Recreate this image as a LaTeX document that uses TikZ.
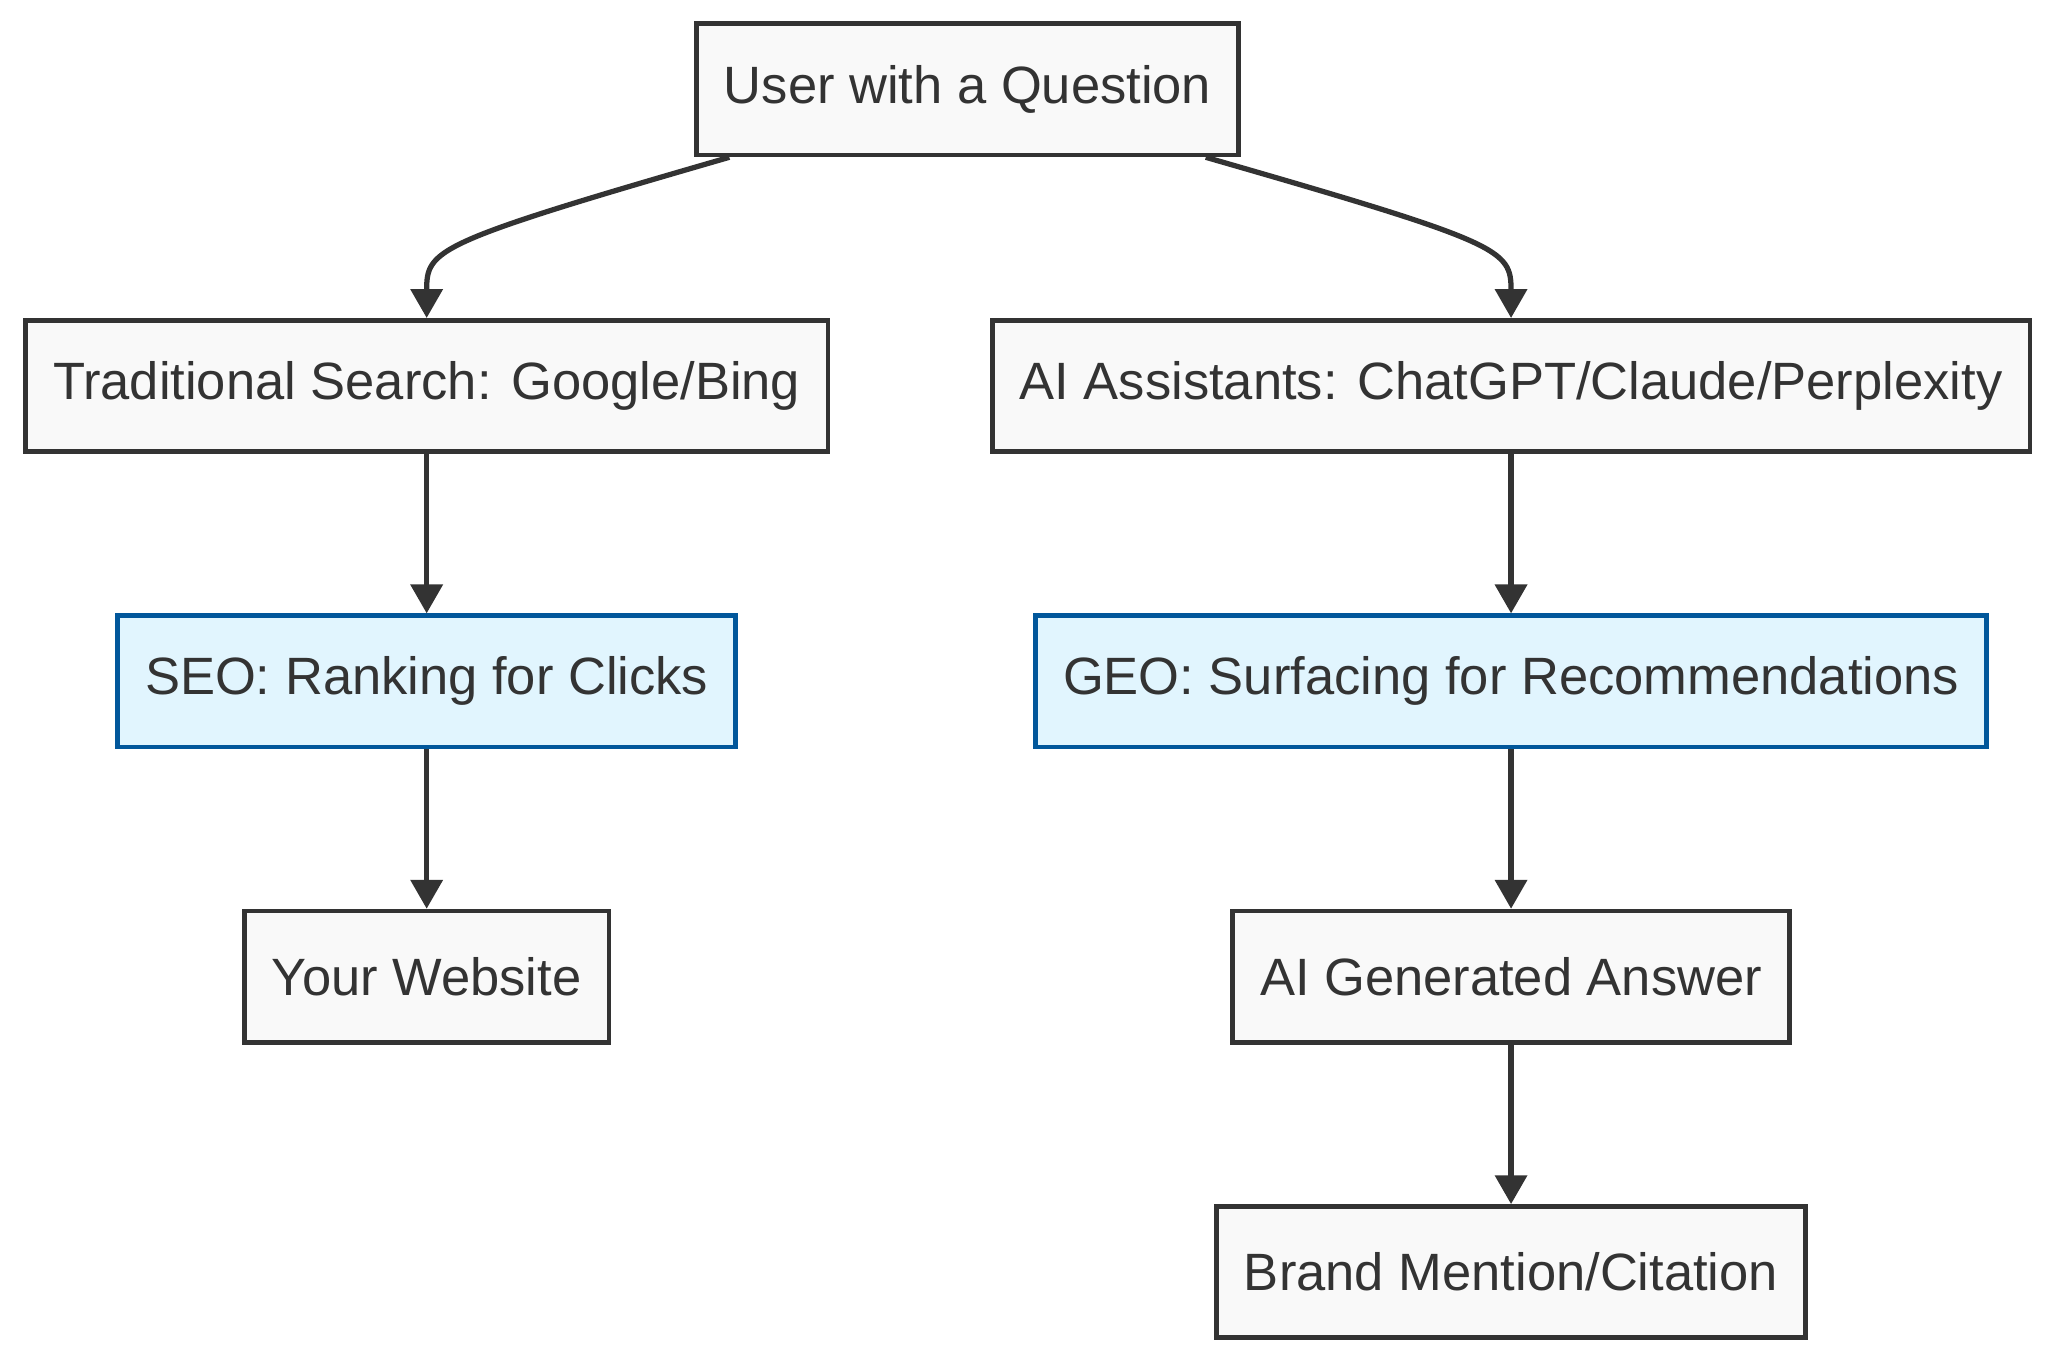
\documentclass[tikz,border=0pt]{standalone}
\usepackage{fontspec}
\setmainfont{Liberation Sans}
\usetikzlibrary{arrows.meta}
\definecolor{boxfill}{HTML}{F9F9F9}
\definecolor{boxline}{HTML}{333333}
\definecolor{geofill}{HTML}{E1F5FE}
\definecolor{geoline}{HTML}{01579B}
\tikzset{
    box/.style = {rectangle, draw = boxline, fill = boxfill, line width = 1.8pt,
        minimum height = 50pt, inner xsep = 10.5pt, text = boxline,
        font = \fontsize{20}{23}\selectfont},
    optbox/.style = {box, draw = geoline, fill = geofill},
    flow/.style = {draw = boxline, line width = 2pt, -{Triangle[length=11pt, width=12pt]}}
}
\begin{document}
\begin{tikzpicture}[x = 0.5pt, y = -0.5pt]
    \useasboundingbox (0,0) rectangle (1560,1035);
    \node [box] (user) at (737,68) {User with a Question};
    \node [box] (trad) at (325,294) {Traditional Search: Google/Bing};
    \node [box] (assist) at (1151,294) {AI Assistants: ChatGPT/Claude/Perplexity};
    \node [optbox] (seo) at (325,519) {SEO: Ranking for Clicks};
    \node [optbox] (geo) at (1151,519) {GEO: Surfacing for Recommendations};
    \node [box] (site) at (325,744) {Your Website};
    \node [box] (answer) at (1151,744) {AI Generated Answer};
    \node [box] (brand) at (1151,969) {Brand Mention/Citation};
    % left and right branches
    \draw [flow] (user.south west) ++(27,0) .. controls (330,185) and (325,190) .. (trad.north);
    \draw [flow] (user.south east) ++(-27,0) .. controls (1145,185) and (1151,190) .. (assist.north);
    \draw [flow] (trad) -- (seo);
    \draw [flow] (seo) -- (site);
    \draw [flow] (assist) -- (geo);
    \draw [flow] (geo) -- (answer);
    \draw [flow] (answer) -- (brand);
\end{tikzpicture}
\end{document}
